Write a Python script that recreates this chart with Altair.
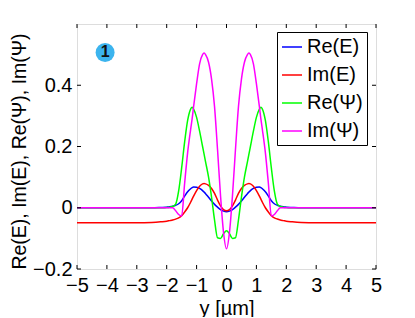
import altair as alt
import pandas as pd

# y positions [µm]
y_pos = [-5, -4, -3, -2.5, -2.2, -2.0, -1.9, -1.8, -1.7, -1.6, -1.5, -1.4, -1.3, -1.2, -1.15, -1.1,
         -1.0, -0.9, -0.8, -0.75, -0.7, -0.6, -0.5, -0.4, -0.3, -0.2, -0.1,
         0,
         0.1, 0.2, 0.3, 0.4, 0.5, 0.6, 0.7, 0.75, 0.8, 0.9, 1.0,
         1.1, 1.15, 1.2, 1.3, 1.4, 1.5, 1.6, 1.7, 1.8, 1.9, 2.0, 2.2, 2.5, 3, 4, 5]

re_E = [0, 0, 0, 0, 0.001, 0.002, 0.003, 0.005, 0.008, 0.013, 0.023, 0.038, 0.052, 0.062, 0.066, 0.068,
        0.067, 0.063, 0.056, 0.051, 0.046, 0.034, 0.022, 0.011, 0.002, -0.006, -0.011,
        -0.013,
        -0.011, -0.006, 0.002, 0.011, 0.022, 0.034, 0.046, 0.051, 0.056, 0.063, 0.067,
        0.068, 0.066, 0.062, 0.052, 0.038, 0.023, 0.013, 0.008, 0.005, 0.003, 0.002, 0.001, 0, 0, 0, 0]

im_E = [-0.049, -0.049, -0.049, -0.048, -0.046, -0.044, -0.042, -0.040, -0.037, -0.033, -0.026, -0.014, 0.0, 0.018, 0.028, 0.038,
        0.056, 0.070, 0.078, 0.079, 0.078, 0.073, 0.063, 0.047, 0.025, 0.006, -0.006,
        -0.010,
        -0.006, 0.006, 0.025, 0.047, 0.063, 0.073, 0.078, 0.079, 0.078, 0.070, 0.056,
        0.038, 0.028, 0.018, 0.0, -0.014, -0.026, -0.033, -0.037, -0.040, -0.042, -0.044, -0.046, -0.048, -0.049, -0.049, -0.049]

re_Psi = [0, 0, 0, 0, 0, 0.001, 0.002, 0.004, 0.012, 0.055, 0.13, 0.215, 0.285, 0.322, 0.328, 0.322,
          0.295, 0.25, 0.20, 0.175, 0.15, 0.10, 0.035, -0.04, -0.098, -0.10, -0.085,
          -0.075,
          -0.085, -0.10, -0.098, -0.04, 0.035, 0.10, 0.15, 0.175, 0.20, 0.25, 0.295,
          0.322, 0.328, 0.322, 0.285, 0.215, 0.13, 0.055, 0.012, 0.004, 0.002, 0.001, 0, 0, 0, 0, 0]

im_Psi = [0, 0, 0, 0, 0, 0, 0, 0, -0.010, -0.022, -0.027, 0.08, 0.18, 0.255, 0.29, 0.33,
          0.405, 0.47, 0.50, 0.505, 0.50, 0.475, 0.42, 0.33, 0.19, 0.04, -0.08,
          -0.134,
          -0.08, 0.04, 0.19, 0.33, 0.42, 0.475, 0.50, 0.505, 0.50, 0.47, 0.405,
          0.33, 0.29, 0.255, 0.18, 0.08, -0.027, -0.022, -0.010, 0, 0, 0, 0, 0, 0, 0, 0]

series_names = ["Re(E)", "Im(E)", "Re(Ψ)", "Im(Ψ)"]
series_colors = ["#0000ff", "#ff0000", "#00ff00", "#ff00ff"]

x_ticks = [-5, -4, -3, -2, -1, 0, 1, 2, 3, 4, 5]
y_ticks = [-0.2, 0, 0.2, 0.4]

badge_label = ["1"]
badge_x = [-4.06]
badge_y = [0.507]

rows = []
for name, vals in zip(series_names, [re_E, im_E, re_Psi, im_Psi]):
    for i, (xv, yv) in enumerate(zip(y_pos, vals)):
        rows.append({"y": xv, "v": yv, "series": name, "order": i})
df = pd.DataFrame(rows)

W, H = 299, 245
xscale = alt.Scale(domain=[-5, 5], nice=False, zero=False)
yscale = alt.Scale(domain=[-0.2, 0.6], nice=False, zero=False)
FONT = "Liberation Sans"

x_axis = alt.Axis(values=x_ticks, title="y [µm]", ticks=False, tickSize=0, domain=False,
                  grid=False, labelFontSize=20, titleFontSize=20, labelPadding=6,
                  labelOverlap=False, labelFlush=False,
                  titlePadding=3, labelFont=FONT, titleFont=FONT, titleFontWeight="normal",
                  labelColor="black", titleColor="black")
y_axis = alt.Axis(values=y_ticks, title="Re(E), Im(E), Re(Ψ), Im(Ψ)", ticks=False, tickSize=0,
                  domain=False, grid=False, labelFontSize=20, titleFontSize=19.5,
                  labelPadding=5, titlePadding=3, labelFont=FONT, titleFont=FONT,
                  labelOverlap=False, labelFlush=False, titleY=127,
                  titleFontWeight="normal", labelColor="black", titleColor="black",
                  labelExpr="datum.value == 0 ? '0' : format(datum.value, '.1f')")

lines = alt.Chart(df).mark_line(strokeWidth=1.5, interpolate="monotone", clip=True).encode(
    x=alt.X("y:Q", scale=xscale, axis=x_axis),
    y=alt.Y("v:Q", scale=yscale, axis=y_axis),
    color=alt.Color("series:N",
                    scale=alt.Scale(domain=series_names, range=series_colors),
                    sort=series_names,
                    legend=alt.Legend(title=None, orient="none", legendX=200, legendY=8,
                                      symbolType="stroke", symbolSize=400, symbolStrokeWidth=1.5,
                                      labelFontSize=20, labelFont=FONT, labelColor="black",
                                      labelOffset=4, rowPadding=7, padding=4,
                                      strokeColor="black", fillColor="white", cornerRadius=0)),
    order="order:Q",
)

tdf_x = pd.DataFrame({"t": x_ticks})
tdf_y = pd.DataFrame({"t": y_ticks})
tick_bottom = alt.Chart(tdf_x).mark_rule(color="black", strokeWidth=1).encode(
    x=alt.X("t:Q", scale=xscale, axis=x_axis), y=alt.value(H), y2=alt.value(H - 4))
tick_top = alt.Chart(tdf_x).mark_rule(color="black", strokeWidth=1).encode(
    x=alt.X("t:Q", scale=xscale, axis=x_axis), y=alt.value(0), y2=alt.value(4))
tick_left = alt.Chart(tdf_y).mark_rule(color="black", strokeWidth=1).encode(
    y=alt.Y("t:Q", scale=yscale, axis=y_axis), x=alt.value(0), x2=alt.value(4))
tick_right = alt.Chart(tdf_y).mark_rule(color="black", strokeWidth=1).encode(
    y=alt.Y("t:Q", scale=yscale, axis=y_axis), x=alt.value(W), x2=alt.value(W - 4))

bdf = pd.DataFrame({"label": badge_label, "bx": badge_x, "by": badge_y})
badge = alt.Chart(bdf).mark_point(filled=True, shape="circle", size=360, color="#3cb4ee", opacity=1).encode(
    x=alt.X("bx:Q", scale=xscale, axis=x_axis), y=alt.Y("by:Q", scale=yscale, axis=y_axis))
badge_text = alt.Chart(bdf).mark_text(fontSize=16, fontWeight="bold", font=FONT, color="#111111",
                                      baseline="middle", align="center").encode(
    x=alt.X("bx:Q", scale=xscale, axis=x_axis), y=alt.Y("by:Q", scale=yscale, axis=y_axis),
    text="label:N")

chart = alt.layer(lines, tick_bottom, tick_top, tick_left, tick_right, badge, badge_text).properties(
    width=W, height=H,
    autosize=alt.AutoSizeParams(type="none"),
    padding={"left": 69, "top": 16, "right": 22, "bottom": 48},
).configure_view(stroke="black", strokeWidth=1).configure(background="white")

chart.save("out.html", embed_options={"renderer": "svg", "actions": False})
